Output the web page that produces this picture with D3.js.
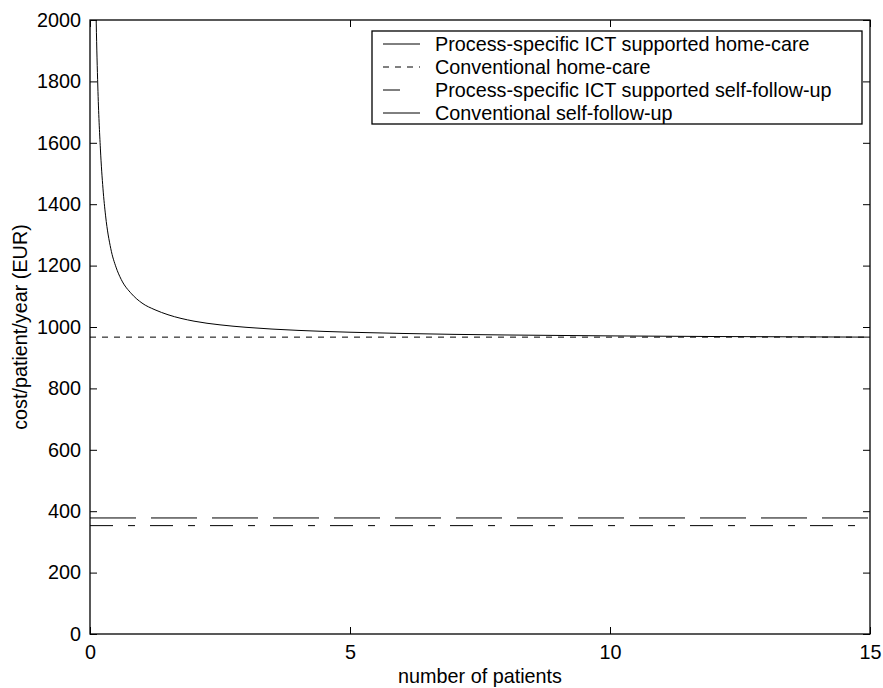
<!DOCTYPE html>
<html>
<head>
<meta charset="utf-8">
<script src="https://cdn.jsdelivr.net/npm/d3@7"></script>
<style>
  body { margin: 0; background: #fff; }
  text { font-family: "Liberation Sans", Arial, sans-serif; fill: #000; }
</style>
</head>
<body>
<script>
// chart data
var patients = [0.1, 0.12, 0.15, 0.2, 0.25, 0.3, 0.4, 0.5, 0.6, 0.8, 1, 1.25, 1.5, 2, 2.5, 3, 4, 5, 6, 7, 8, 10, 12, 15];
var ictHomeCare = [2190, 1990, 1785, 1580, 1450, 1362, 1255, 1195, 1155, 1108, 1078, 1056, 1040, 1019, 1007, 999, 989, 983, 979, 976, 974, 971, 969, 967];
var lineX = [0, 15];
var convHomeCare = [967, 967];
var ictSelf = [378, 378];
var convSelf = [353, 353];
var xTicks = [0, 5, 10, 15];
var yTicks = [0, 200, 400, 600, 800, 1000, 1200, 1400, 1600, 1800, 2000];
var legendLabels = ["Process-specific ICT supported home-care", "Conventional home-care",
  "Process-specific ICT supported self-follow-up", "Conventional self-follow-up"];

var w = 883, h = 688;
var pLeft = 90, pRight = 870, pTop = 20, pBottom = 634;
var fs = "19.8px";

var svg = d3.select("body").append("svg")
  .attr("width", w)
  .attr("height", h);

var xScale = d3.scaleLinear().domain([0, 15]).range([pLeft, pRight]);
var yScale = d3.scaleLinear().domain([0, 2000]).range([pBottom, pTop]);

svg.append("clipPath").attr("id", "clip")
  .append("rect")
  .attr("x", pLeft).attr("y", pTop)
  .attr("width", pRight - pLeft).attr("height", pBottom - pTop);

var plot = svg.append("g").attr("clip-path", "url(#clip)");

var line = d3.line()
  .x(function(d) { return xScale(d[0]); })
  .y(function(d) { return yScale(d[1]); });

var series = [
  { x: patients, y: ictHomeCare, dash: null, curve: d3.curveMonotoneX },
  { x: lineX, y: convHomeCare, dash: "6,6", curve: d3.curveLinear },
  { x: lineX, y: ictSelf, dash: "46,15", curve: d3.curveLinear },
  { x: lineX, y: convSelf, dash: "23,15,7,15", curve: d3.curveLinear }
];

series.forEach(function(s) {
  var pts = s.x.map(function(v, i) { return [v, s.y[i]]; });
  plot.append("path")
    .attr("d", line.curve(s.curve)(pts))
    .attr("fill", "none")
    .attr("stroke", "#000")
    .attr("stroke-width", 1)
    .attr("stroke-dasharray", s.dash);
});

// axes box with ticks inside, mirrored on top and right
var xAxisB = d3.axisBottom(xScale).tickValues(xTicks).tickSize(-7).tickPadding(11).tickFormat(d3.format("d"));
var xAxisT = d3.axisTop(xScale).tickValues(xTicks).tickSize(-7).tickFormat("");
var yAxisL = d3.axisLeft(yScale).tickValues(yTicks).tickSize(-7).tickPadding(9).tickFormat(d3.format("d"));
var yAxisR = d3.axisRight(yScale).tickValues(yTicks).tickSize(-7).tickFormat("");

function styleAxis(g) {
  g.selectAll(".domain").remove();
  g.selectAll(".tick line").attr("stroke", "#000");
  g.selectAll("text").style("font-size", fs).attr("font-family", null);
}

svg.append("g").attr("transform", "translate(0," + pBottom + ")").call(xAxisB).call(styleAxis);
svg.append("g").attr("transform", "translate(0," + pTop + ")").call(xAxisT).call(styleAxis);
svg.append("g").attr("transform", "translate(" + pLeft + ",0)").call(yAxisL).call(styleAxis);
svg.append("g").attr("transform", "translate(" + pRight + ",0)").call(yAxisR).call(styleAxis);

svg.append("rect")
  .attr("x", pLeft).attr("y", pTop)
  .attr("width", pRight - pLeft).attr("height", pBottom - pTop)
  .attr("fill", "none").attr("stroke", "#000").attr("stroke-width", 1.3);

svg.append("text")
  .attr("x", (pLeft + pRight) / 2)
  .attr("y", 683)
  .attr("text-anchor", "middle")
  .style("font-size", fs)
  .text("number of patients");

svg.append("text")
  .attr("transform", "translate(27," + (pTop + pBottom) / 2 + ") rotate(-90)")
  .attr("text-anchor", "middle")
  .style("font-size", fs)
  .text("cost/patient/year (EUR)");

// legend
var lg = svg.append("g").attr("transform", "translate(372,31)");
lg.append("rect")
  .attr("width", 490).attr("height", 93)
  .attr("fill", "#fff").attr("stroke", "#000").attr("stroke-width", 1.3);

var sampleDash = [null, "6,6", "17,100", null];
legendLabels.forEach(function(lbl, i) {
  var yy = 13 + i * 23;
  lg.append("line")
    .attr("x1", 11).attr("x2", 48)
    .attr("y1", yy).attr("y2", yy)
    .attr("stroke", "#000").attr("stroke-width", 1)
    .attr("stroke-dasharray", sampleDash[i]);
  lg.append("text")
    .attr("x", 63).attr("y", yy + 7)
    .style("font-size", fs)
    .text(lbl);
});
</script>
</body>
</html>
